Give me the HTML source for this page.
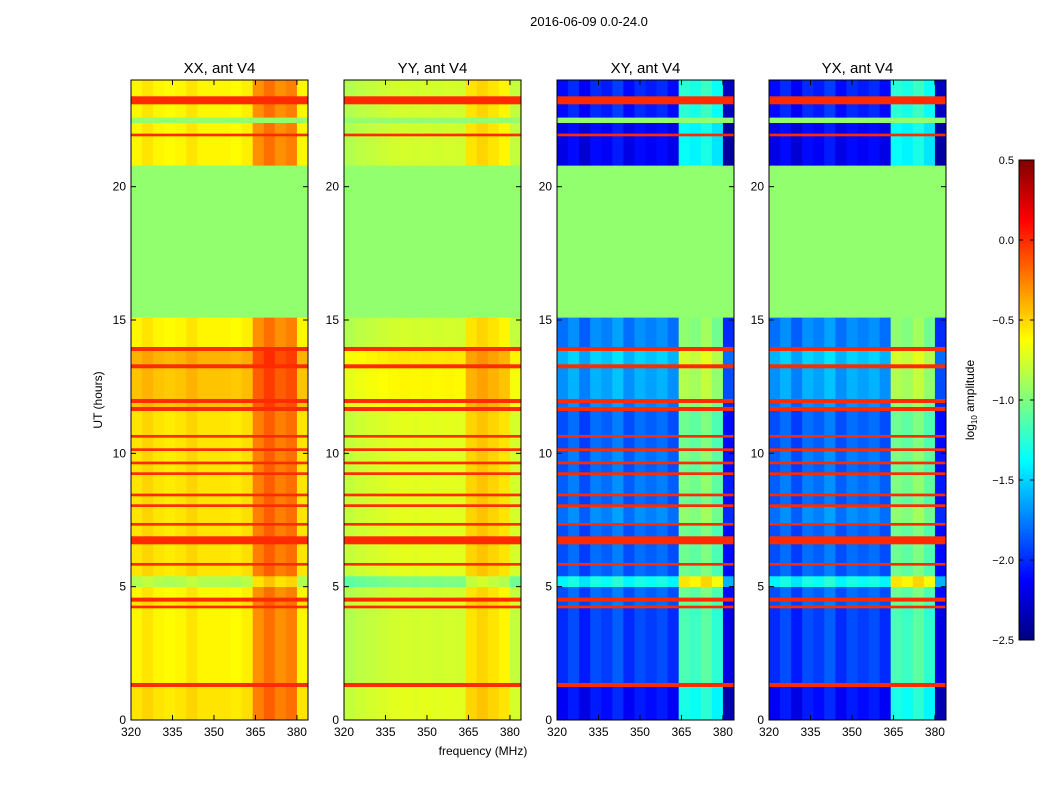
<!DOCTYPE html>
<html><head><meta charset="utf-8">
<style>
body{margin:0;background:#fff;width:1050px;height:800px;overflow:hidden;font-family:"Liberation Sans",sans-serif;}
svg text{font-family:"Liberation Sans",sans-serif;}
</style></head>
<body>
<svg id="fig" width="1050" height="800">
<text x="589" y="26" font-size="13" text-anchor="middle">2016-06-09 0.0-24.0</text>
<text x="483" y="755" font-size="12" text-anchor="middle">frequency (MHz)</text>
<text transform="translate(102,400) rotate(-90)" font-size="12" text-anchor="middle">UT (hours)</text>
<defs><linearGradient id="jet" x1="0" y1="1" x2="0" y2="0">
<stop offset="0" stop-color="#00007f"/><stop offset="0.125" stop-color="#0000ff"/><stop offset="0.375" stop-color="#00ffff"/><stop offset="0.5" stop-color="#7fff7f"/><stop offset="0.625" stop-color="#ffff00"/><stop offset="0.875" stop-color="#ff0000"/><stop offset="1" stop-color="#7f0000"/></linearGradient></defs>
<rect x="1019" y="160" width="15" height="480" fill="url(#jet)" stroke="#000"/>
<text transform="translate(974,400) rotate(-90)" font-size="12" text-anchor="middle">log<tspan font-size="8" dy="3">10</tspan><tspan dy="-3"> amplitude</tspan></text>
<g id="cbt"></g>
<g id="panels"></g>
</svg>
<script>
const freqTicks=[320,335,350,365,380];
const timeTicks=[0,5,10,15,20];
const cbTicks=[0.5,0.0,-0.5,-1.0,-1.5,-2.0,-2.5];
const freqEdges=[320,324,328,332,336,340,344,348,352,356,360,364,368,372,376,380,384];
const xxProfile=[-0.6,-0.55,-0.6,-0.62,-0.6,-0.55,-0.6,-0.6,-0.6,-0.62,-0.58,-0.3,-0.2,-0.3,-0.25,-0.6];
const yyProfile=[-0.85,-0.82,-0.8,-0.78,-0.76,-0.75,-0.76,-0.75,-0.76,-0.75,-0.76,-0.55,-0.5,-0.55,-0.6,-0.8];
const xyProfile=[-1.9,-1.8,-1.95,-1.8,-1.85,-1.75,-1.9,-1.8,-1.85,-1.8,-1.9,-1.05,-1.1,-1.0,-1.15,-2.1];
const yxProfile=[-1.9,-1.8,-1.95,-1.8,-1.85,-1.75,-1.9,-1.8,-1.85,-1.8,-1.9,-1.05,-1.1,-1.0,-1.15,-2.1];
const bandStart=[0,1.25,1.4,4.2,4.3,4.45,4.6,5.0,5.4,5.8,5.9,6.6,6.9,7.3,7.4,8.0,8.1,8.4,8.5,9.2,9.3,9.6,9.7,10.1,10.2,10.6,10.7,11.6,11.75,11.9,12.05,13.2,13.35,13.85,14.0,15.1,20.8,21.9,22.0,22.4,22.6,23.1,23.4];
const bandEnd=[1.25,1.4,4.2,4.3,4.45,4.6,5.0,5.4,5.8,5.9,6.6,6.9,7.3,7.4,8.0,8.1,8.4,8.5,9.2,9.3,9.6,9.7,10.1,10.2,10.6,10.7,11.6,11.75,11.9,12.05,13.2,13.35,13.85,14.0,15.1,20.8,21.9,22.0,22.4,22.6,23.1,23.4,24];
const bandKind=['d','r','d','r','d','r','d','d','d','r','d','r','d','r','d','r','d','r','d','r','d','r','d','r','d','r','d','r','d','r','d','r','d','r','d','f','d','r','d','f','d','r','d'];
const parOffset=[0.05,0,0,0,0.05,0,0,-0.25,0.05,0,0.05,0,0.05,0,0.05,0,0.05,0,0.05,0,0.05,0,0.05,0,0.05,0,0.05,0,0.15,0,0.15,0,0.2,0,0,0,0,0,0,0,0,0,0];
const crossOffset=[-0.25,0,-0.1,0,0,0,0,0.5,0,0,0,0,0,0,0.1,0,0,0,0.05,0,0,0,0.05,0,0,0,0,0,0.1,0,0.2,0,0.3,0,0.1,0,-0.3,0,-0.3,0,-0.2,0,-0.2];
const panels=[
 {name:'xx',title:'XX, ant V4',x0:131,prof:xxProfile,cross:false},
 {name:'yy',title:'YY, ant V4',x0:344,prof:yyProfile,cross:false},
 {name:'xy',title:'XY, ant V4',x0:557,prof:xyProfile,cross:true},
 {name:'yx',title:'YX, ant V4',x0:769,prof:yxProfile,cross:true}];
const W=177,Y0=80,H=640,FMIN=320,FMAX=384,TMAX=24;
function jet(v){let t=(v+2.5)/3;t=Math.max(0,Math.min(1,t));
 const f=(a)=>Math.max(0,Math.min(1,1.5-Math.abs(4*t-a)));
 return `rgb(${Math.round(255*f(3))},${Math.round(255*f(2))},${Math.round(255*f(1))})`;}
const NS='http://www.w3.org/2000/svg';
function mk(tag,attrs,parent){const e=document.createElementNS(NS,tag);for(const k in attrs)e.setAttribute(k,attrs[k]);parent.appendChild(e);return e;}
const root=document.getElementById('panels');
panels.forEach(p=>{
 const xs=f=>p.x0+(f-FMIN)/(FMAX-FMIN)*W;
 const ys=t=>Y0+H-(t/TMAX)*H;
 const g=mk('g',{},root);
 
 
 for(let b=0;b<bandStart.length;b++){
  for(let c=0;c<freqEdges.length-1;c++){
   let v;
   if(bandKind[b]==='f')v=-0.95;
   else if(bandKind[b]==='r')v=0.0;
   else v=p.prof[c]+(p.cross?crossOffset[b]:parOffset[b]);
   const y1=ys(bandEnd[b]),y2=ys(bandStart[b]);
   const r=mk('rect',{x:xs(freqEdges[c]),y:y1,width:xs(freqEdges[c+1])-xs(freqEdges[c])+0.5,height:y2-y1+0.3,fill:jet(v)},g);
   
   
  }
 }
 const fr=mk('rect',{x:p.x0,y:Y0,width:W,height:H,fill:'none',stroke:'#000','stroke-width':1},g);
 
 
 const tt=mk('text',{x:p.x0+W/2,y:Y0-7,'font-size':15,'text-anchor':'middle'},g);tt.textContent=p.title;
 
 
 freqTicks.forEach(f=>{const x=xs(f);
  mk('line',{x1:x,x2:x,y1:Y0+H,y2:Y0+H-5,stroke:'#000'},g);mk('line',{x1:x,x2:x,y1:Y0,y2:Y0+5,stroke:'#000'},g);
  const t=mk('text',{x:x,y:Y0+H+16,'font-size':12,'text-anchor':'middle'},g);t.textContent=f;
  
  });
 timeTicks.forEach(v=>{const y=ys(v);
  mk('line',{x1:p.x0,x2:p.x0+5,y1:y,y2:y,stroke:'#000'},g);mk('line',{x1:p.x0+W,x2:p.x0+W-5,y1:y,y2:y,stroke:'#000'},g);
  const t=mk('text',{x:p.x0-5,y:y+4,'font-size':12,'text-anchor':'end'},g);t.textContent=v;
  
  });
});
const cb=document.getElementById('cbt');
cbTicks.forEach(v=>{const y=640-(v+2.5)/3*480;
 mk('line',{x1:1019,x2:1023,y1:y,y2:y,stroke:'#000'},cb);mk('line',{x1:1034,x2:1030,y1:y,y2:y,stroke:'#000'},cb);
 const t=mk('text',{x:1014,y:y+4,'font-size':11,'text-anchor':'end'},cb);t.textContent=(v<0?'\u2212':'')+Math.abs(v).toFixed(1);
 
 });
</script>
</body></html>
